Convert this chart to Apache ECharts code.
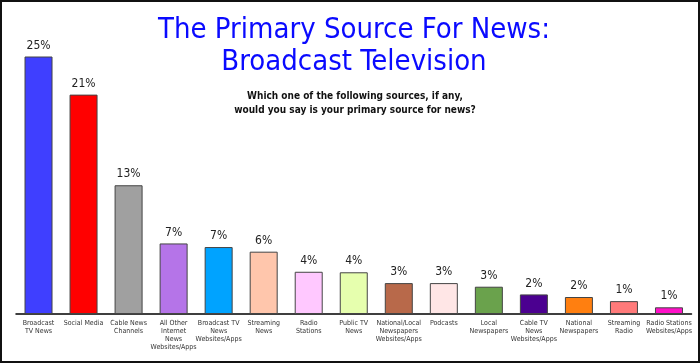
<!DOCTYPE html>
<html>
<head>
<meta charset="utf-8">
<script src="https://cdn.jsdelivr.net/npm/echarts@6/dist/echarts.min.js"></script>
<style>
  html, body { margin: 0; padding: 0; background: #fff; }
  #chart { width: 700px; height: 363px; }
</style>
</head>
<body>
<div id="chart"></div>
<script>
// ---- Data ----
var categories = [
  "Broadcast\nTV News",
  "Social Media",
  "Cable News\nChannels",
  "All Other\nInternet\nNews\nWebsites/Apps",
  "Broadcast TV\nNews\nWebsites/Apps",
  "Streaming\nNews",
  "Radio\nStations",
  "Public TV\nNews",
  "National/Local\nNewspapers\nWebsites/Apps",
  "Podcasts",
  "Local\nNewspapers",
  "Cable TV\nNews\nWebsites/Apps",
  "National\nNewspapers",
  "Streaming\nRadio",
  "Radio Stations\nWebsites/Apps"
];
var values = [25.0, 21.3, 12.5, 6.85, 6.5, 6.05, 4.1, 4.05, 3.0, 3.0, 2.65, 1.9, 1.65, 1.25, 0.65];
var barColors = [
  "#3f3fff", "#ff0000", "#a0a0a0", "#b574e8", "#00a3ff",
  "#ffc6ac", "#ffc8ff", "#e6ffae", "#b8694a", "#ffe6e6",
  "#6aa24c", "#4b0090", "#ff7f10", "#ff7a7a", "#ff10c8"
];
var titleText = "The Primary Source For News:\nBroadcast Television";
var subtitleText = "Which one of the following sources, if any,\nwould you say is your primary source for news?";

var FONT = "'DejaVu Sans Condensed', 'DejaVu Sans', sans-serif";

var chart = echarts.init(document.getElementById('chart'), null, { renderer: 'canvas' });
chart.setOption({
  animation: false,
  backgroundColor: '#ffffff',
  title: [
    {
      text: titleText,
      left: 349,
      top: 9,
      textAlign: 'center',
      textStyle: { color: '#0a0aff', fontFamily: FONT, fontWeight: 'normal', fontSize: 29, lineHeight: 32 }
    },
    {
      text: subtitleText,
      left: 350,
      top: 84,
      textAlign: 'center',
      textStyle: { color: '#111', fontFamily: FONT, fontWeight: 'bold', fontSize: 10, lineHeight: 14 }
    }
  ],
  grid: { left: 16, right: 8.5, top: 46.2, bottom: 49, containLabel: false },
  xAxis: {
    type: 'category',
    data: categories,
    axisLine: { show: true, lineStyle: { color: '#000', width: 1.5 } },
    axisTick: { show: false },
    axisLabel: {
      interval: 0,
      margin: 5,
      color: '#333',
      fontFamily: FONT,
      fontSize: 7,
      lineHeight: 8
    }
  },
  yAxis: {
    type: 'value',
    min: 0,
    max: 26,
    show: false,
    splitLine: { show: false }
  },
  series: [{
    type: 'bar',
    data: values.map(function (v, i) {
      return { value: v, itemStyle: { color: barColors[i] } };
    }),
    barWidth: 28,
    itemStyle: { borderColor: '#444', borderWidth: 1 },
    label: {
      show: true,
      position: 'top',
      distance: 5,
      color: '#222',
      fontFamily: FONT,
      fontSize: 12,
      formatter: function (p) { return Math.round(p.value) + '%'; }
    }
  }],
  graphic: [{
    type: 'rect',
    shape: { x: 1, y: 1, width: 698, height: 361 },
    style: { fill: 'none', stroke: '#111', lineWidth: 2 },
    silent: true,
    z: 100
  }]
});
</script>
</body>
</html>
